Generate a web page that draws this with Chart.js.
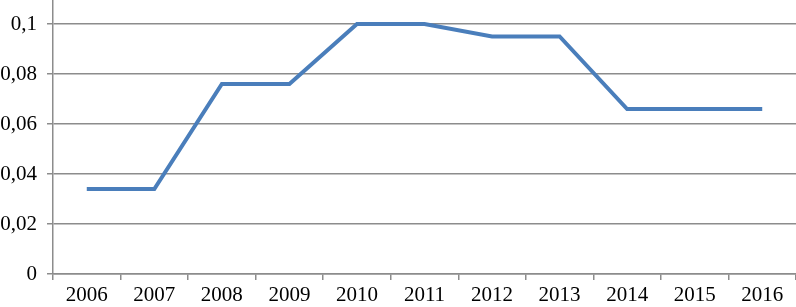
<!DOCTYPE html>
<html>
<head>
<meta charset="utf-8">
<script src="https://cdn.jsdelivr.net/npm/chart.js@4/dist/chart.umd.min.js"></script>
<style>
  html, body { margin: 0; padding: 0; background: #fff; }
  #wrap { width: 796px; height: 307px; position: relative; }
</style>
</head>
<body>
<div id="wrap"><canvas id="chart"></canvas></div>
<script>
const years = ['2006', '2007', '2008', '2009', '2010', '2011', '2012', '2013', '2014', '2015', '2016'];
const values = [0.034, 0.034, 0.076, 0.076, 0.1, 0.1, 0.095, 0.095, 0.066, 0.066, 0.066];
const yTicks = [0, 0.02, 0.04, 0.06, 0.08, 0.1];

const gridColor = '#8c8c8c';
const fontSpec = { family: '"Liberation Serif", "Times New Roman", serif', size: 21 };

new Chart(document.getElementById('chart'), {
  type: 'line',
  data: {
    labels: years,
    datasets: [{
      data: values,
      borderColor: '#4a7ebb',
      borderWidth: 4,
      tension: 0,
      pointRadius: 0,
      borderJoinStyle: 'miter',
      fill: false
    }]
  },
  options: {
    responsive: true,
    maintainAspectRatio: false,
    animation: false,
    layout: { padding: 0 },
    plugins: { legend: { display: false }, tooltip: { enabled: false } },
    scales: {
      x: {
        offset: true,
        grid: {
          offset: true,
          drawOnChartArea: false,
          drawTicks: true,
          tickLength: 6,
          color: gridColor,
          lineWidth: 1.5
        },
        border: { color: gridColor, width: 1.5 },
        ticks: { color: '#000', font: fontSpec, padding: 3, maxRotation: 0, autoSkip: false },
        afterFit: s => { s.height = 33; s.paddingLeft = 0; s.paddingRight = 0; }
      },
      y: {
        min: 0,
        max: 0.1096,
        afterBuildTicks: s => { s.ticks = yTicks.map(v => ({ value: v })); },
        grid: { color: gridColor, lineWidth: 1.5, tickLength: 6 },
        border: { color: gridColor, width: 1.5 },
        ticks: {
          color: '#000',
          font: fontSpec,
          padding: 10,
          callback: v => String(Number(v.toFixed(2))).replace('.', ',')
        },
        afterFit: s => { s.width = 53; s.paddingTop = 0; s.paddingBottom = 0; }
      }
    }
  }
});
</script>
</body>
</html>
